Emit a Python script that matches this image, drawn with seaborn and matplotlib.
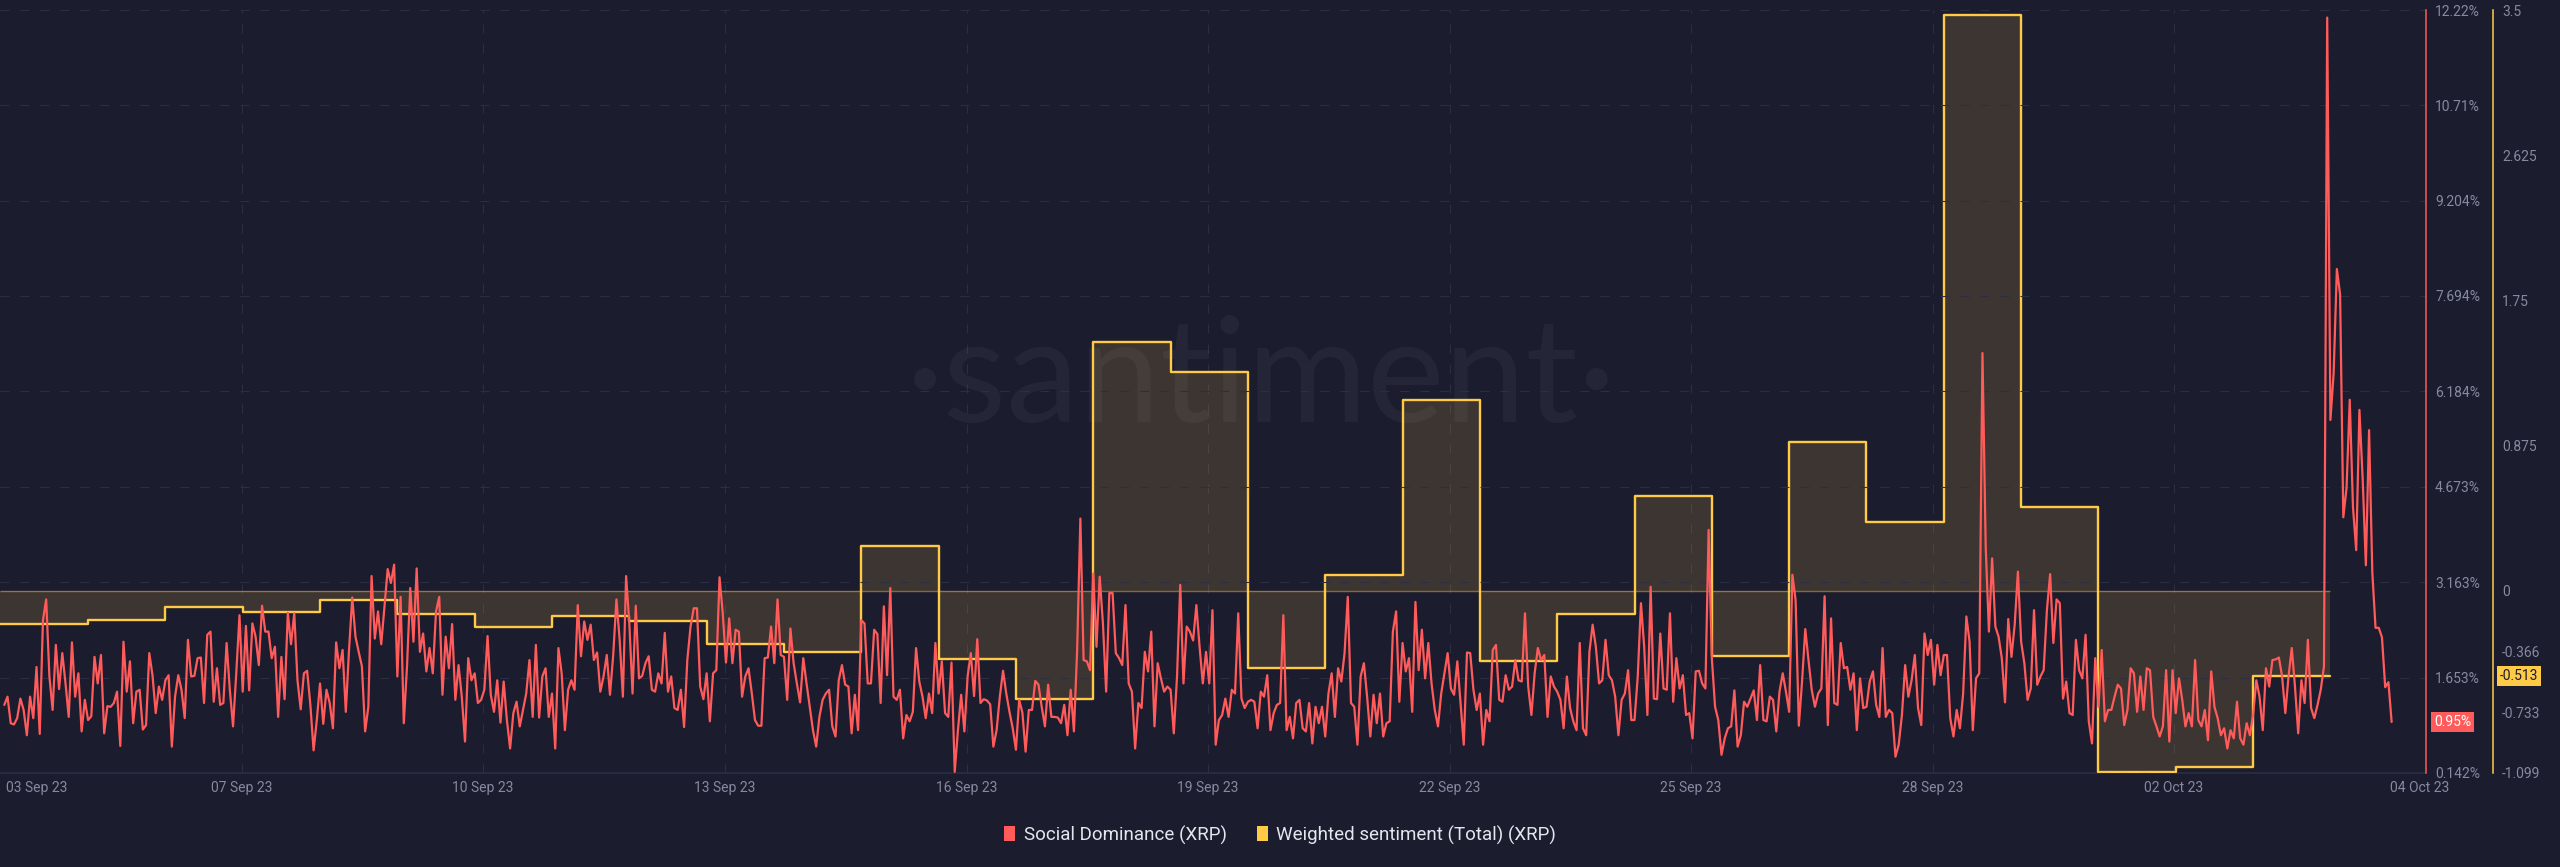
import pandas as pd
import seaborn as sns
import matplotlib.pyplot as plt
import matplotlib.dates as mdates
from matplotlib.patches import Patch

# Dados (Santiment, XRP)
# Social Dominance (%), série horária
social_start = "2023-09-02 22:00"
social_dominance = [
    1.22, 1.35, 0.93, 0.91, 1.01, 1.32, 1.14, 0.74, 1.35, 1.01,
    1.82, 0.76, 2.56, 2.89, 1.67, 1.14, 2.17, 1.47, 2.04, 1.56,
    1.03, 2.21, 1.35, 1.72, 0.80, 1.30, 0.98, 1.04, 1.98, 1.56,
    2.01, 0.77, 1.20, 1.19, 1.25, 1.43, 0.57, 2.22, 1.43, 1.91,
    0.93, 1.43, 1.46, 0.83, 0.90, 2.04, 1.69, 1.09, 1.51, 1.30,
    1.61, 1.69, 0.56, 1.35, 1.69, 1.46, 1.01, 2.25, 1.67, 1.68,
    1.96, 1.97, 1.25, 2.33, 2.38, 1.27, 1.80, 1.22, 1.25, 2.20,
    1.46, 0.88, 1.72, 2.64, 1.43, 2.47, 1.45, 2.51, 2.30, 1.85,
    2.79, 2.38, 2.38, 1.96, 2.14, 1.03, 1.98, 1.31, 2.68, 2.18,
    2.67, 1.61, 1.15, 1.72, 1.76, 1.22, 0.50, 0.98, 1.56, 0.92,
    1.46, 1.25, 0.85, 2.21, 1.80, 2.09, 1.11, 2.09, 2.92, 2.30,
    2.06, 1.83, 0.80, 1.19, 3.26, 2.27, 2.70, 2.18, 2.78, 3.37,
    3.15, 3.44, 1.67, 2.93,
    0.93, 1.83, 3.07, 2.22, 3.38, 2.06, 2.35, 1.75, 2.12, 1.72,
    2.70, 2.93, 1.38, 2.30, 1.80, 2.50, 1.30, 1.85, 1.35, 0.64,
    1.96, 1.61, 1.72, 1.25, 1.30, 1.46, 2.31, 1.38, 1.11, 1.61,
    0.94, 1.59, 0.98, 0.53, 1.09, 1.27, 0.88, 1.14, 1.40, 1.93,
    1.03, 2.17, 1.02, 1.67, 1.80, 1.03, 1.40, 0.53, 2.12, 1.72,
    0.82, 1.46, 1.61, 1.46, 2.80, 1.99, 2.54, 2.25, 2.49, 1.93,
    2.05, 1.43, 1.67, 2.01, 1.38, 2.01, 2.89, 2.25, 1.35, 3.26,
    2.51, 1.40, 2.79, 1.64, 1.68, 1.88, 1.99, 1.46, 1.43, 1.72,
    1.56, 2.36, 1.43, 1.67, 1.17, 1.14, 1.46, 0.87, 1.93, 2.46,
    2.75, 2.75, 1.51, 1.31, 1.72, 0.96, 1.72, 1.77, 3.24, 2.67,
    1.89, 2.59, 1.88, 2.41, 2.38, 1.35, 1.67, 1.80, 1.41, 0.98,
    0.89, 0.89, 1.96, 1.97, 2.46, 1.88, 2.89, 2.01, 1.98, 1.30,
    2.43, 1.88, 1.56, 1.26,
    1.96, 1.56, 1.19, 0.82, 0.56, 1.03, 1.30, 1.40, 1.46, 0.88,
    0.72, 1.61, 1.85, 1.54, 1.51, 0.77, 1.38, 0.82, 2.56, 2.51,
    1.56, 1.56, 2.41, 2.34, 1.25, 2.78, 1.69, 3.07, 1.35, 1.30,
    1.46, 0.69, 1.06, 0.96, 1.11, 2.12, 1.59, 1.35, 1.01, 1.40,
    1.09, 2.20, 1.40, 1.91, 1.09, 1.03, 1.89, 0.16, 0.82, 1.38,
    0.80, 1.67, 2.04, 1.36, 2.26, 1.25, 1.31, 1.29, 1.23, 0.56,
    0.82, 1.35, 1.76, 1.40, 1.11, 0.85, 0.51, 1.30, 1.10, 0.48,
    1.14, 1.14, 1.60, 1.54, 1.19, 0.88, 1.54, 1.03, 1.03, 1.02,
    0.93, 1.22, 0.74, 1.46, 0.80, 2.09, 4.17, 1.93, 1.91, 1.77,
    3.30, 2.14, 3.25, 2.51, 1.43, 2.99, 2.99, 2.04, 1.96, 1.85,
    2.80, 1.56, 1.43, 0.53, 1.25, 1.17, 2.06, 1.75, 2.38, 0.88,
    1.88, 1.64, 1.43, 1.51, 1.46, 0.77, 1.67, 3.12, 1.56, 2.46,
    2.38, 2.24, 2.80, 2.14,
    1.56, 2.06, 1.56, 2.72, 0.59, 0.98, 1.06, 1.32, 1.03,
    1.46, 1.40, 2.67, 1.32, 1.17, 1.27, 1.30, 1.27, 0.85, 1.43,
    1.35, 1.69, 0.82, 1.09, 1.22, 1.25, 2.64, 0.82, 1.03, 0.69,
    1.25, 1.30, 0.85, 0.80, 1.25, 0.61, 1.19, 0.93, 1.19, 0.72,
    1.40, 1.72, 1.03, 1.80, 1.59, 2.04, 2.93, 1.25, 1.19, 0.59,
    1.67, 1.88, 1.35, 0.72, 1.38, 0.93, 1.40, 0.72, 0.93, 0.96,
    2.38, 2.70, 1.27, 2.20, 1.75, 1.96, 1.11, 2.85, 1.77, 2.41,
    1.64, 2.20, 1.56, 1.14, 0.88, 1.40, 1.72, 2.04, 1.48, 1.38,
    1.91, 1.25, 0.59, 2.05, 2.04, 1.46, 1.14, 1.40, 0.59, 1.14,
    0.96, 2.09, 2.17, 1.30, 1.27, 1.69, 1.46, 1.51, 1.93, 1.61,
    1.59, 2.67, 1.51, 1.06, 1.72, 2.12, 1.93, 2.01, 1.03, 1.67,
    1.51, 1.43, 1.30, 0.85, 1.67, 1.17, 0.96, 0.82, 2.20, 0.85,
    0.74, 2.06, 2.49, 2.14, 1.56,
    1.61, 2.25, 1.69, 1.61, 1.35, 0.74, 1.30, 1.40, 1.77, 0.98,
    0.98, 1.67, 2.83, 2.14, 1.06, 3.09, 1.32, 1.31, 2.35, 1.48,
    1.46, 2.67, 1.27, 1.96, 1.48, 1.69, 1.06, 1.09, 0.69, 1.75,
    1.76, 1.56, 1.48, 3.99, 1.96, 1.19, 0.98, 0.43, 0.69, 0.85,
    0.88, 1.45, 0.56, 0.74, 1.27, 1.19, 1.32, 1.45, 0.98, 1.85,
    0.98, 0.96, 1.35, 1.30, 0.80, 1.43, 1.72, 1.43, 1.11, 3.28,
    2.88, 0.89, 1.59, 2.42, 1.93, 1.46, 1.19, 1.40, 1.48, 2.94,
    0.90, 2.59, 1.25, 1.22, 2.20, 1.80, 1.82, 1.46, 1.72, 0.82,
    1.64, 1.17, 1.19, 1.59, 1.75, 1.22, 1.03, 2.12, 1.03, 1.14,
    1.09, 0.40, 0.59, 1.06, 1.85, 1.35, 1.61, 2.01, 1.17, 0.90,
    2.35, 2.01, 2.25, 1.54, 2.17, 1.69, 2.01, 2.01, 1.01, 0.72,
    1.14, 0.85, 1.40, 2.62, 2.22, 0.82, 1.64, 1.72, 6.79, 3.73,
    2.38, 3.54, 2.46, 2.30,
    1.96, 1.26, 2.58, 1.98, 2.49, 3.33, 2.22, 1.88, 1.30, 1.48,
    2.72, 1.54, 1.67, 1.77, 2.72, 3.29, 2.20, 2.89, 2.83, 1.32,
    1.59, 1.09, 1.06, 2.25, 1.77, 1.64, 2.33, 0.96, 0.61, 1.96,
    1.19, 2.09, 0.96, 1.14, 1.14, 1.35, 1.54, 1.48, 0.90, 1.14,
    1.80, 1.72, 1.11, 1.67, 1.14, 1.80, 1.77, 1.03, 0.88, 0.72,
    0.88, 1.77, 0.64, 1.77, 1.09, 1.64, 1.30, 0.88, 1.09, 0.88,
    1.93, 0.98, 0.88, 1.14, 0.66, 1.75, 1.19, 1.01, 0.74, 0.85,
    0.53, 0.82, 0.69, 1.27, 0.69, 0.59, 0.93, 0.74, 1.06, 1.61,
    1.35, 0.82, 1.80, 1.51, 1.93, 1.94, 1.97, 1.67, 1.09, 1.67,
    2.12, 1.51, 0.77, 1.61, 1.25, 2.25, 1.17, 1.01, 1.22, 1.46,
    1.83,
    12.10, 5.73, 6.47, 8.12, 7.72, 4.19, 4.65, 6.05, 4.35, 3.67,
    5.89, 4.81, 3.43, 5.57, 3.32, 2.44, 2.44, 2.29, 1.50, 1.58,
    0.95,
]

# Weighted sentiment (Total), série diária
sentiment_start = "2023-09-02"
weighted_sentiment = [
    -0.20, -0.20, -0.177, -0.10, -0.127, -0.058, -0.142, -0.217, -0.15, -0.185,
    -0.32, -0.37, 0.27, -0.41, -0.653, 1.50, 1.32, -0.468, 0.095, 1.148,
    -0.424, -0.142, 0.571, -0.394, 0.894, 0.412, 3.47, 0.506, -1.091, -1.065,
    -0.513,
]

dom_ticks = [0.142, 1.653, 3.163, 4.673, 6.184, 7.694, 9.204, 10.71, 12.22]
sent_ticks = [-1.099, -0.733, -0.366, 0, 0.875, 1.75, 2.625, 3.5]
date_labels = ["03 Sep 23", "07 Sep 23", "10 Sep 23", "13 Sep 23", "16 Sep 23",
               "19 Sep 23", "22 Sep 23", "25 Sep 23", "28 Sep 23", "02 Oct 23",
               "04 Oct 23"]
last_dom = 0.95
last_sent = -0.513

# Cores
BG = "#1b1c2e"
RED = "#ff5b5b"
YELLOW = "#ffcb47"
GRID = "#2b2e45"
TXT = "#858aa1"

sns.set_theme(style="dark", rc={"axes.facecolor": BG, "figure.facecolor": BG,
                                "savefig.facecolor": BG})
plt.rcParams["font.family"] = ["Roboto", "DejaVu Sans"]

dom = pd.DataFrame({
    "time": pd.date_range(social_start, periods=len(social_dominance), freq="h"),
    "value": social_dominance,
})
sent_time = pd.date_range(sentiment_start, periods=len(weighted_sentiment), freq="D")
# ponto final para fechar o último degrau
sent = pd.DataFrame({
    "time": list(sent_time) + [sent_time[-1] + pd.Timedelta(days=1)],
    "value": weighted_sentiment + [weighted_sentiment[-1]],
})

fig = plt.figure(figsize=(25.6, 8.67), dpi=100)
ax = fig.add_axes([0, 94 / 867, 2426 / 2560, 763 / 867])
ax2 = ax.twinx()

xlim = (pd.Timestamp("2023-09-02 20:40"), pd.Timestamp("2023-10-04 05:40"))

# Sentimento (eixo amarelo, por baixo)
ax.fill_between(sent["time"], sent["value"], 0, step="post", color=YELLOW,
                alpha=0.145, linewidth=0, zorder=1)

# marca d'água, por cima do preenchimento
ax.text(0.52, 0.46, "·santiment·", transform=ax.transAxes, ha="center", va="baseline",
        fontsize=105, color="white", alpha=0.045, family=["Lato", "DejaVu Sans"],
        zorder=1.5)

ax.hlines(0, xlim[0], sent["time"].iloc[-1], color=YELLOW, alpha=0.45, lw=1, zorder=2)
sns.lineplot(data=sent, x="time", y="value", ax=ax, color=YELLOW, linewidth=1.7,
             drawstyle="steps-post", legend=False, zorder=3)

# Social dominance (eixo vermelho, por cima)
sns.lineplot(data=dom, x="time", y="value", ax=ax2, color=RED, linewidth=1.6,
             legend=False, zorder=3)

ax.set_xlim(xlim)
ax.set_ylim(-1.099, 3.5)
ax2.set_ylim(0.142, 12.22)
ax.set_xlabel("")
ax.set_ylabel("")
ax2.set_ylabel("")

# eixo x: rótulos igualmente espaçados como no Santiment
tick_px = [37, 242, 483, 725, 967, 1208, 1450, 1691, 1933, 2174, 2420]
x0, x1 = mdates.date2num(xlim[0]), mdates.date2num(xlim[1])
xpos = [x0 + p / 2426 * (x1 - x0) for p in tick_px]
ax.set_xticks(xpos, labels=date_labels)
ax.tick_params(axis="x", length=0, pad=6, labelsize=10, labelcolor=TXT)
for p in xpos[1:-1]:
    ax.axvline(p, color=GRID, lw=0.8, linestyle=(0, (8, 10)), zorder=0.5)

# eixo vermelho (%)
ax2.set_yticks(dom_ticks, labels=[f"{v:g}%" for v in dom_ticks])
ax2.tick_params(axis="y", length=0, pad=6.5, labelsize=10, labelcolor=TXT)
ax2.grid(axis="y", color=GRID, lw=0.8, linestyle=(0, (8, 10)))
ax2.set_axisbelow(True)

# eixo amarelo
ax.yaxis.tick_right()
ax.set_yticks(sent_ticks, labels=[f"{v:g}" for v in sent_ticks])
ax.tick_params(axis="y", length=0, pad=6.5, labelsize=10, labelcolor=TXT,
               left=False, labelleft=False, right=True, labelright=True)

for s in ["left", "top", "bottom"]:
    ax2.spines[s].set_visible(False)
ax2.spines["right"].set_color(RED)
ax2.spines["right"].set_linewidth(1.1)
ax.spines["left"].set_visible(False)
ax.spines["top"].set_visible(False)
ax.spines["bottom"].set_color(GRID)
ax.spines["bottom"].set_linewidth(1.2)
ax.spines["right"].set_position(("outward", 48.2))
ax.spines["right"].set_color(YELLOW)
ax.spines["right"].set_linewidth(1.1)

# valores atuais
ax2.text(2434 / 2426, last_dom, f"{last_dom:.2f}%", transform=ax2.get_yaxis_transform(),
         ha="left", va="center", fontsize=10, color="white", clip_on=False,
         bbox=dict(boxstyle="square,pad=0.2", fc=RED, ec="none"))
ax.text(2500 / 2426, last_sent, f"{last_sent:g}", transform=ax.get_yaxis_transform(),
        ha="left", va="center", fontsize=10, color=BG, clip_on=False,
        bbox=dict(boxstyle="square,pad=0.2", fc=YELLOW, ec="none"))

# legenda
handles = [Patch(facecolor=RED, edgecolor="none"), Patch(facecolor=YELLOW, edgecolor="none")]
fig.legend(handles, ["Social Dominance (XRP)", "Weighted sentiment (Total) (XRP)"],
           loc="center", bbox_to_anchor=(0.5, 32 / 867), ncol=2, frameon=False,
           fontsize=13.5, labelcolor="#e4e6ee", handlelength=0.6, handleheight=0.85,
           handletextpad=0.45, columnspacing=1.6, borderaxespad=0)

fig.savefig("out.png", dpi=100, facecolor=BG)
